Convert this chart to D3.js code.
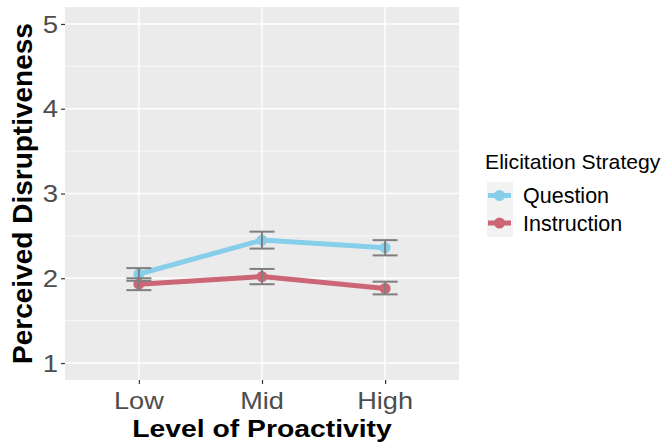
<!DOCTYPE html>
<html>
<head>
<meta charset="utf-8">
<script src="https://cdn.jsdelivr.net/npm/d3@7"></script>
<style>
  body { margin: 0; background: #fff; font-family: "Liberation Sans", Arial, sans-serif; }
</style>
</head>
<body>
<div id="chart"></div>
<script>
// Data
const levels = ["Low", "Mid", "High"];
const strategies = ["Question", "Instruction"];
const questionMean = [2.05, 2.45, 2.36];
const questionLow = [1.97, 2.35, 2.27];
const questionHigh = [2.12, 2.55, 2.45];
const instructionMean = [1.93, 2.02, 1.88];
const instructionLow = [1.86, 1.93, 1.81];
const instructionHigh = [2.00, 2.11, 1.96];
const yTicks = [1, 2, 3, 4, 5];
const colors = ["#87CEEB", "#CC6677"];

const width = 668, height = 447;
const margin = { left: 65, right: 209, top: 7, bottom: 67 };

const svg = d3.select("#chart").append("svg")
  .attr("width", width)
  .attr("height", height)
  .style("font-family", "Liberation Sans, Arial, sans-serif");

const x = d3.scalePoint()
  .domain(levels)
  .range([margin.left, width - margin.right])
  .padding(0.6);

const y = d3.scaleLinear()
  .domain([0.8, 5.2])
  .range([height - margin.bottom, margin.top]);

// text that is a bit wider than the font, like the reference
function stretchText(sel, tx, ty, sx) {
  return sel.attr("transform", `translate(${tx},${ty}) scale(${sx},1)`);
}

// Panel background
svg.append("rect")
  .attr("x", margin.left)
  .attr("y", margin.top)
  .attr("width", width - margin.left - margin.right)
  .attr("height", height - margin.top - margin.bottom)
  .attr("fill", "#EBEBEB");

// Minor gridlines
svg.selectAll(".minor")
  .data([1.5, 2.5, 3.5, 4.5])
  .join("line")
  .attr("x1", margin.left)
  .attr("x2", width - margin.right)
  .attr("y1", d => y(d))
  .attr("y2", d => y(d))
  .attr("stroke", "#fff")
  .attr("stroke-width", 0.7);

// Major gridlines
svg.selectAll(".majorY")
  .data(yTicks)
  .join("line")
  .attr("x1", margin.left)
  .attr("x2", width - margin.right)
  .attr("y1", d => y(d))
  .attr("y2", d => y(d))
  .attr("stroke", "#fff")
  .attr("stroke-width", 1.4);

svg.selectAll(".majorX")
  .data(levels)
  .join("line")
  .attr("x1", d => x(d))
  .attr("x2", d => x(d))
  .attr("y1", margin.top)
  .attr("y2", height - margin.bottom)
  .attr("stroke", "#fff")
  .attr("stroke-width", 1.4);

// Axes (ticks only, labels drawn below)
const yAxis = svg.append("g")
  .attr("transform", `translate(${margin.left},0)`)
  .call(d3.axisLeft(y).tickValues(yTicks).tickSize(4).tickFormat(""));
yAxis.select(".domain").remove();
yAxis.selectAll("line").attr("stroke", "#333").attr("stroke-width", 1.2);

const xAxis = svg.append("g")
  .attr("transform", `translate(0,${height - margin.bottom})`)
  .call(d3.axisBottom(x).tickSize(4).tickFormat(""));
xAxis.select(".domain").remove();
xAxis.selectAll("line").attr("stroke", "#333").attr("stroke-width", 1.2);

// Tick labels
svg.selectAll(".ylab")
  .data(yTicks)
  .join("text")
  .attr("class", "ylab")
  .each(function (d) { stretchText(d3.select(this), 58, y(d), 1.15); })
  .attr("text-anchor", "end")
  .attr("dy", "0.36em")
  .attr("fill", "#4D4D4D")
  .style("font-size", "24px")
  .text(d3.format("d"));

svg.selectAll(".xlab")
  .data(levels)
  .join("text")
  .attr("class", "xlab")
  .each(function (d) { stretchText(d3.select(this), x(d), 409, 1.18); })
  .attr("text-anchor", "middle")
  .attr("fill", "#4D4D4D")
  .style("font-size", "23px")
  .text(d => d);

// Axis titles
stretchText(svg.append("text"), x("Mid"), 437, 1.18)
  .attr("text-anchor", "middle")
  .style("font-size", "24px")
  .style("font-weight", "bold")
  .text("Level of Proactivity");

svg.append("text")
  .attr("transform", `translate(32,${(margin.top + height - margin.bottom) / 2}) rotate(-90)`)
  .attr("text-anchor", "middle")
  .style("font-size", "28px")
  .style("font-weight", "bold")
  .text("Perceived Disruptiveness");

// Series
const series = [
  { name: strategies[0], mean: questionMean, lo: questionLow, hi: questionHigh, color: colors[0] },
  { name: strategies[1], mean: instructionMean, lo: instructionLow, hi: instructionHigh, color: colors[1] }
];

const line = d3.line()
  .x(d => x(d.level))
  .y(d => y(d.mean));

series.forEach(s => {
  const pts = levels.map((lv, i) => ({ level: lv, mean: s.mean[i], lo: s.lo[i], hi: s.hi[i] }));

  svg.append("path")
    .datum(pts)
    .attr("d", line)
    .attr("fill", "none")
    .attr("stroke", s.color)
    .attr("stroke-width", 5);

  svg.append("g")
    .selectAll("circle")
    .data(pts)
    .join("circle")
    .attr("cx", d => x(d.level))
    .attr("cy", d => y(d.mean))
    .attr("r", 5.5)
    .attr("fill", s.color);

  s.pts = pts;
});

// Error bars on top
series.forEach(s => {
  const g = svg.append("g").attr("stroke", "#7F7F7F").attr("stroke-width", 2);
  g.selectAll(".v")
    .data(s.pts)
    .join("line")
    .attr("x1", d => x(d.level))
    .attr("x2", d => x(d.level))
    .attr("y1", d => y(d.lo))
    .attr("y2", d => y(d.hi));
  g.selectAll(".top")
    .data(s.pts)
    .join("line")
    .attr("x1", d => x(d.level) - 12.5)
    .attr("x2", d => x(d.level) + 12.5)
    .attr("y1", d => y(d.hi))
    .attr("y2", d => y(d.hi));
  g.selectAll(".bot")
    .data(s.pts)
    .join("line")
    .attr("x1", d => x(d.level) - 12.5)
    .attr("x2", d => x(d.level) + 12.5)
    .attr("y1", d => y(d.lo))
    .attr("y2", d => y(d.lo));
});

// Legend
const legend = svg.append("g").attr("transform", "translate(485,0)");
stretchText(legend.append("text"), 0, 169, 1.06)
  .style("font-size", "20px")
  .text("Elicitation Strategy");

legend.selectAll(".key")
  .data(series)
  .join("g")
  .attr("transform", (d, i) => `translate(0,${182 + i * 27.5})`)
  .each(function (d) {
    const k = d3.select(this);
    k.append("rect")
      .attr("x", 2).attr("y", 0)
      .attr("width", 26).attr("height", 27.5)
      .attr("fill", "#F2F2F2");
    k.append("line")
      .attr("x1", 3).attr("x2", 26)
      .attr("y1", 13.5).attr("y2", 13.5)
      .attr("stroke", d.color)
      .attr("stroke-width", 5);
    k.append("circle")
      .attr("cx", 14.5).attr("cy", 13.5).attr("r", 5.5)
      .attr("fill", d.color);
    k.append("text")
      .attr("x", 38).attr("y", 13.5)
      .attr("dy", "0.36em")
      .style("font-size", "21.5px")
      .text(d.name);
  });
</script>
</body>
</html>
